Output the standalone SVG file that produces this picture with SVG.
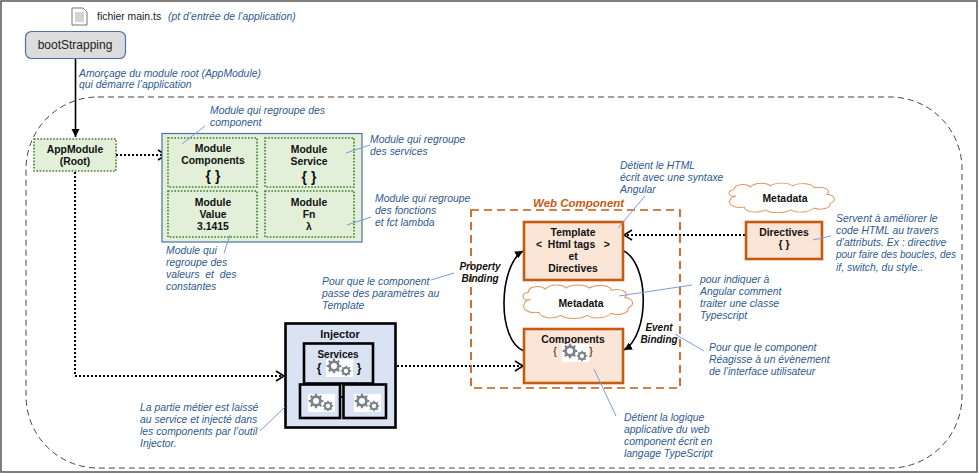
<svg xmlns="http://www.w3.org/2000/svg" xmlns:xlink="http://www.w3.org/1999/xlink" width="979" height="474" viewBox="0 0 979 474">
<style>
text{font-family:"Liberation Sans",Arial,sans-serif}
.n{font-size:10.4px;font-style:italic;fill:#2f5b8f}
.b{font-size:10.4px;font-weight:700;fill:#111;text-anchor:middle}
.bi{font-size:10px;font-weight:700;font-style:italic;fill:#111;text-anchor:middle}
.lead{stroke:#7c9cd8;stroke-width:1;fill:none}
.mod{fill:#e2efd9;stroke:#3f7d25;stroke-width:1.6;stroke-dasharray:1.6 1.6}
.or{fill:#fbe5d6;stroke:#c55a11;stroke-width:2.6}
.cloud{fill:#fff;stroke:#e0955f;stroke-width:1}
.dot{fill:none;stroke:#000;stroke-width:2;stroke-dasharray:2 2}
.solid{fill:none;stroke:#000;stroke-width:1.6}
.w{fill:#dae3f3;stroke:#000;stroke-width:2.6}
.gbg{fill:#fff}
</style>
<defs>
<marker id="open" markerUnits="userSpaceOnUse" markerWidth="12" markerHeight="12" refX="9" refY="6" orient="auto"><path d="M1 1L9 6L1 11" fill="none" stroke="#000" stroke-width="1.6"/></marker>
<marker id="fill" markerUnits="userSpaceOnUse" markerWidth="10" markerHeight="10" refX="8" refY="5" orient="auto"><path d="M0 1L8 5L0 9z" fill="#000"/></marker>
<g id="gear">
<circle r="4.400" fill="none" stroke="#7a838a" stroke-width="2.800"/>
<path d="M0-7.300V7.300M-7.300 0H7.300M-5.200-5.200L5.200 5.200M-5.200 5.200L5.200-5.200" stroke="#7a838a" stroke-width="2.200"/>
<circle r="3" fill="#fff"/>
</g>
<g id="gears">
<rect x="-13" y="-9" width="27" height="18" class="gbg"/>
<use xlink:href="#gear" href="#gear" transform="translate(-5,-2)"/>
<use xlink:href="#gear" href="#gear" transform="translate(7,3) scale(.72)"/>
</g>
<path id="cl" d="M8 12C-1 13-1 6 6 5C6-1 18-2 22 2C27-3 38-3 42 1C47-3 60-3 64 1C70-3 84-2 85 3C94 1 103 5 98 10C106 11 108 17 101 20C102 25 92 28 85 25C80 30 68 31 62 27C56 31 42 31 37 27C30 31 18 30 16 24C6 26-2 20 3 15C2 14 4 13 8 12Z"/>
</defs>

<rect x="1" y="1" width="976" height="471" fill="#fff" stroke="#555" stroke-width="1.500"/>
<rect x="26" y="97" width="936" height="371" rx="72" ry="72" fill="none" stroke="#444" stroke-width="1" stroke-dasharray="6 4"/>

<g id="connectors">
<path class="solid" d="M75.500 58V137" marker-end="url(#fill)"/>
<path class="dot" d="M116 155H166" marker-end="url(#open)"/>
<path class="dot" d="M75 172V376H284" marker-end="url(#open)"/>
<path class="dot" d="M397 366H523" marker-end="url(#open)"/>
<path class="dot" d="M745 235H624" marker-end="url(#open)"/>
<path class="solid" d="M524 351C496 340 499 265 523 251" marker-end="url(#fill)" stroke-width="1.800"/>
<path class="solid" d="M622 250C650 262 650 335 624 350" marker-end="url(#fill)" stroke-width="1.800"/>
</g>

<g id="file-icon">
<path d="M72 8H83L87 12V25H72Z" fill="#fff" stroke="#777" stroke-width="1"/>
<path d="M75 13H84M75 15H84M75 17H84M75 19H84M75 21H84" stroke="#aaa" stroke-width="1"/>
<text x="97" y="20" font-size="10.400px" fill="#222">fichier main.ts</text>
<text class="n" x="168" y="20">(pt d’entrée de l’application)</text>
</g>

<g id="bootstrapping">
<rect x="25.500" y="31.500" width="100" height="27" rx="6" fill="#dcdcdc" stroke="#4f71a8" stroke-width="1.200"/>
<text x="75" y="49" font-size="12px" text-anchor="middle" fill="#222">bootStrapping</text>
</g>
<text class="n" x="79" y="76.500">Amorçage du module root (AppModule)</text>
<text class="n" x="79" y="88">qui démarre l’application</text>

<g id="appmodule">
<rect class="mod" x="34" y="139" width="82" height="32"/>
<text class="b" x="75" y="153">AppModule</text>
<text class="b" x="75" y="165">(Root)</text>
</g>

<g id="modules">
<rect x="162" y="133.500" width="200" height="108.500" fill="#e2efd9" stroke="#4f71a8" stroke-width="1.200"/>
<g id="module-components">
<rect class="mod" x="168" y="138" width="89" height="49"/>
<text class="b" x="213" y="152">Module</text>
<text class="b" x="213" y="164">Components</text>
<text class="b" x="213" y="181" style="font-size:14px">{ }</text>
</g>
<g id="module-service">
<rect class="mod" x="265" y="138" width="89" height="49"/>
<text class="b" x="309" y="153">Module</text>
<text class="b" x="309" y="165">Service</text>
<text class="b" x="309" y="182" style="font-size:14px">{ }</text>
</g>
<g id="module-value">
<rect class="mod" x="168" y="191" width="89" height="46"/>
<text class="b" x="213" y="206">Module</text>
<text class="b" x="213" y="218">Value</text>
<text class="b" x="213" y="230">3.1415</text>
</g>
<g id="module-fn">
<rect class="mod" x="265" y="191" width="89" height="46"/>
<text class="b" x="309" y="206">Module</text>
<text class="b" x="309" y="218">Fn</text>
<text class="b" x="309" y="230">λ</text>
</g>
</g>

<text class="n" x="210" y="114">Module qui regroupe des</text>
<text class="n" x="210" y="126">component</text>
<path class="lead" d="M205 126L182 144"/>
<text class="n" x="370" y="143">Module qui regroupe</text>
<text class="n" x="370" y="155">des services</text>
<path class="lead" d="M370 145L346 153"/>
<text class="n" x="375" y="202">Module qui regroupe</text>
<text class="n" x="375" y="214">des fonctions</text>
<text class="n" x="375" y="226">et fct lambda</text>
<path class="lead" d="M371 217L347 225"/>
<text class="n" x="166" y="254">Module qui</text>
<text class="n" x="166" y="266">regroupe des</text>
<text class="n" x="166" y="278" xml:space="preserve">valeurs  et  des</text>
<text class="n" x="166" y="290">constantes</text>
<path class="lead" d="M230 235L224 253"/>
<text class="n" x="322" y="285">Pour que le component</text>
<text class="n" x="322" y="297">passe des paramètres au</text>
<text class="n" x="322" y="309">Template</text>
<path class="lead" d="M431 280L454 273"/>

<g id="web-component">
<rect x="471" y="210" width="209" height="178" fill="none" stroke="#c55a11" stroke-width="1.700" stroke-dasharray="8 5"/>
<text x="533" y="207" font-size="11.500px" font-weight="700" font-style="italic" fill="#c55a11">Web Component</text>
</g>

<g id="template">
<rect class="or" x="524" y="222" width="99" height="58"/>
<text class="b" x="573" y="236">Template</text>
<text class="b" x="573" y="248" xml:space="preserve">&lt;  Html tags   &gt;</text>
<text class="b" x="573" y="260">et</text>
<text class="b" x="573" y="272">Directives</text>
</g>

<g id="metadata-inner">
<use xlink:href="#cl" href="#cl" class="cloud" transform="translate(522,287) scale(1.050,1.050)"/>
<text class="b" x="581" y="307">Metadata</text>
</g>

<g id="components">
<rect class="or" x="524" y="329" width="99" height="54"/>
<text class="b" x="573" y="343">Components</text>
<text class="b" x="555" y="355" style="font-weight:400">{</text>
<text class="b" x="591" y="355" style="font-weight:400">}</text>
<use xlink:href="#gears" href="#gears" transform="translate(575,353)"/>
</g>

<g id="metadata-top">
<use xlink:href="#cl" href="#cl" class="cloud" transform="translate(728,185) scale(1.010,0.920)"/>
<text class="b" x="785" y="202">Metadata</text>
</g>

<g id="directives">
<rect class="or" x="746" y="222" width="76" height="37"/>
<text class="b" x="784" y="236">Directives</text>
<text class="b" x="784" y="248">{ }</text>
</g>

<text class="bi" x="480" y="270">Property</text>
<text class="bi" x="480" y="282">Binding</text>
<text class="bi" x="659" y="331">Event</text>
<text class="bi" x="659" y="343">Binding</text>

<text class="n" x="620" y="169">Détient le HTML</text>
<text class="n" x="620" y="181">écrit avec une syntaxe</text>
<text class="n" x="620" y="193">Angular</text>
<path class="lead" d="M645 196L618 228"/>
<text class="n" x="700" y="283">pour indiquer à</text>
<text class="n" x="700" y="295">Angular comment</text>
<text class="n" x="700" y="307">traiter une classe</text>
<text class="n" x="700" y="319">Typescript</text>
<path class="lead" d="M692 285L619 296"/>
<text class="n" x="709" y="351">Pour que le component</text>
<text class="n" x="709" y="363">Réagisse à un évènement</text>
<text class="n" x="709" y="375">de l’interface utilisateur</text>
<path class="lead" d="M675 334L704 351"/>
<text class="n" x="836" y="222">Servent à améliorer le</text>
<text class="n" x="836" y="234">code HTML au travers</text>
<text class="n" x="836" y="246">d’attributs. Ex : directive</text>
<text class="n" x="836" y="258" style="font-size:10px">pour faire des boucles, des</text>
<text class="n" x="836" y="271">if, switch, du style..</text>
<path class="lead" d="M813 240L831 236"/>
<text class="n" x="624" y="421">Détient la logique</text>
<text class="n" x="624" y="433">applicative du web</text>
<text class="n" x="624" y="445">component écrit en</text>
<text class="n" x="624" y="457">langage TypeScript</text>
<path class="lead" d="M594 369L616 416"/>

<g id="injector">
<rect x="285.500" y="323.500" width="110" height="104" fill="#dae3f3" stroke="#000" stroke-width="2.600"/>
<text class="b" x="340" y="338" style="font-size:11px">Injector</text>
<g id="services">
<rect class="w" x="304" y="343.500" width="69" height="40"/>
<text class="b" x="338" y="358" style="font-size:10px">Services</text>
<text class="b" x="319" y="372" style="font-size:12px">{</text>
<text class="b" x="359" y="372" style="font-size:12px">}</text>
<use xlink:href="#gears" href="#gears" transform="translate(339,368)"/>
</g>
<g id="service-a">
<rect class="w" x="300" y="384.500" width="40" height="33.500"/>
<use xlink:href="#gears" href="#gears" transform="translate(321,403)"/>
</g>
<g id="service-b">
<rect class="w" x="343.500" y="384.500" width="42.500" height="33.500"/>
<use xlink:href="#gears" href="#gears" transform="translate(367,403)"/>
</g>
<path d="M340 397H343.500" stroke="#000" stroke-width="2"/>
</g>
<text class="n" x="140" y="411">La partie métier est laissé</text>
<text class="n" x="140" y="423">au service et injecté dans</text>
<text class="n" x="140" y="435">les components par l’outil</text>
<text class="n" x="140" y="447">Injector.</text>
<path class="lead" d="M260 431L285 407"/>
</svg>
